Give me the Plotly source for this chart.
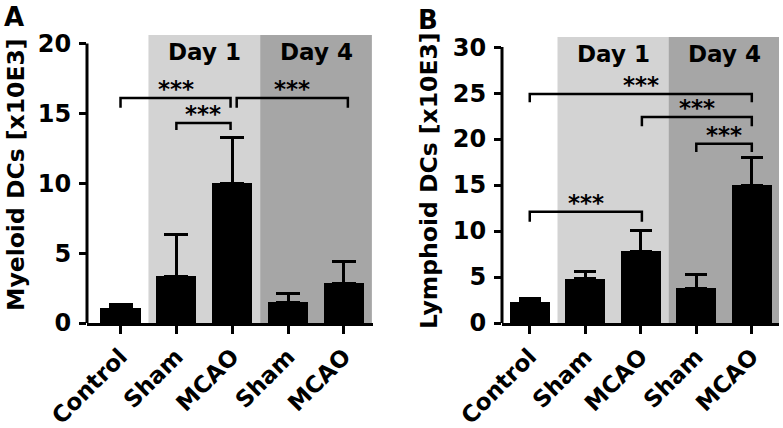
import plotly.graph_objects as go

# ---- data ----
groups = ["Control", "Sham", "MCAO", "Sham", "MCAO"]
myeloid_mean = [1.1, 3.35, 10.0, 1.5, 2.85]
myeloid_err = [0.25, 2.95, 3.3, 0.6, 1.55]
lymphoid_mean = [2.3, 4.8, 7.8, 3.8, 15.0]
lymphoid_err = [0.4, 0.85, 2.3, 1.5, 3.0]
yticks_A = [0, 5, 10, 15, 20]
yticks_B = [0, 5, 10, 15, 20, 25, 30]
day_labels = ["Day 1", "Day 4"]
# significance comparisons: (group i, group j, bracket height, tip length)
sig_A = [(0, 1.97, 16.1, 0.7), (1, 1.97, 14.3, 0.5), (2.08, 4.07, 16.1, 0.7)]
sig_B = [(0, 4, 24.9, 0.9), (2.02, 4, 22.4, 1.0), (3, 4, 19.5, 0.9), (0, 2.02, 12.1, 1.1)]
sig_text = "***"

W, H = 783, 428
FONT = "DejaVu Sans"


def px_x(p):
    return p / W


def px_y(p):
    return 1 - p / H


fig = go.Figure()
x = list(range(len(groups)))

fig.add_trace(go.Bar(
    x=x, y=myeloid_mean, width=0.72, marker=dict(color="black", line=dict(width=0)),
    error_y=dict(type="data", symmetric=False, array=myeloid_err, arrayminus=[0] * 5,
                 thickness=3, width=12, color="black"),
    xaxis="x", yaxis="y", showlegend=False, hoverinfo="skip"))
fig.add_trace(go.Bar(
    x=x, y=lymphoid_mean, width=0.72, marker=dict(color="black", line=dict(width=0)),
    error_y=dict(type="data", symmetric=False, array=lymphoid_err, arrayminus=[0] * 5,
                 thickness=3, width=11, color="black"),
    xaxis="x2", yaxis="y2", showlegend=False, hoverinfo="skip"))

tickfont = dict(family=FONT, size=24, color="black", weight="bold")
xtickfont = dict(family=FONT, size=23, color="black", weight="bold")

common_x = dict(tickmode="array", tickvals=x, ticktext=groups, tickangle=-45,
                ticks="outside", ticklen=8, tickwidth=3, tickcolor="black",
                showline=True, linewidth=3, linecolor="black", showgrid=False,
                zeroline=False, tickfont=xtickfont, automargin=False)
common_y = dict(ticks="outside", ticklen=7, tickwidth=3, tickcolor="black",
                showline=False, showgrid=False, zeroline=False, tickfont=tickfont,
                automargin=False, tickmode="array", ticklabelstandoff=3)

fig.update_layout(
    width=W, height=H, margin=dict(l=0, r=0, t=0, b=0),
    plot_bgcolor="white", paper_bgcolor="white", bargap=0,
    xaxis=dict(domain=[px_x(87), px_x(373)], range=[-0.6, 4.52], **common_x),
    yaxis=dict(domain=[px_y(323), px_y(35)], range=[0, 20.6], tickvals=yticks_A, **common_y),
    xaxis2=dict(domain=[px_x(502), px_x(779)], range=[-0.5, 4.49], anchor="y2", **common_x),
    yaxis2=dict(domain=[px_y(323), px_y(37)], range=[0, 31.1], anchor="x2",
                tickvals=yticks_B, **common_y),
)

shapes = []
annotations = []
for xr, yr, ymax, sigs in [("x", "y", 20, sig_A), ("x2", "y2", 30, sig_B)]:
    # day shading
    shapes.append(dict(type="rect", xref=xr, yref=f"{yr} domain", x0=0.5, x1=2.5, y0=0, y1=1,
                       fillcolor="#d3d3d3", line=dict(width=0), layer="below"))
    shapes.append(dict(type="rect", xref=xr, yref=f"{yr} domain", x0=2.5, x1=4.5, y0=0, y1=1,
                       fillcolor="#a6a6a6", line=dict(width=0), layer="below"))
    # y axis line up to last tick
    shapes.append(dict(type="line", xref=f"{xr} domain", yref=yr, x0=0, x1=0, y0=0, y1=ymax,
                       line=dict(color="black", width=3)))
    for lab, cx in zip(day_labels, [1.5, 3.5]):
        annotations.append(dict(text=lab, xref=xr, yref=f"{yr} domain", x=cx, y=1,
                                yanchor="top", xanchor="center", showarrow=False, yshift=-2,
                                font=dict(family=FONT, size=23, color="black", weight="bold")))
    for (a, b, h, d) in sigs:
        shapes.append(dict(type="path", xref=xr, yref=yr,
                           path=f"M {a},{h - d} L {a},{h} L {b},{h} L {b},{h - d}",
                           line=dict(color="black", width=2.5)))
        annotations.append(dict(text=sig_text, xref=xr, yref=yr, x=(a + b) / 2, y=h,
                                yanchor="bottom", xanchor="center", showarrow=False, yshift=-6,
                                font=dict(family=FONT, size=23, color="black", weight="bold")))

# axis titles and panel letters
annotations.append(dict(text="Myeloid DCs [x10E3]", xref="paper", yref="paper",
                        x=px_x(16), y=px_y(175), textangle=-90, showarrow=False,
                        xanchor="center", yanchor="middle",
                        font=dict(family=FONT, size=23.5, color="black", weight="bold")))
annotations.append(dict(text="Lymphoid DCs [x10E3]", xref="paper", yref="paper",
                        x=px_x(429), y=px_y(180), textangle=-90, showarrow=False,
                        xanchor="center", yanchor="middle",
                        font=dict(family=FONT, size=23.5, color="black", weight="bold")))
annotations.append(dict(text="A", xref="paper", yref="paper", x=px_x(14), y=px_y(17),
                        showarrow=False, xanchor="center", yanchor="middle",
                        font=dict(family=FONT, size=26, color="black", weight="bold")))
annotations.append(dict(text="B", xref="paper", yref="paper", x=px_x(428), y=px_y(20),
                        showarrow=False, xanchor="center", yanchor="middle",
                        font=dict(family=FONT, size=26, color="black", weight="bold")))

fig.update_layout(shapes=shapes, annotations=annotations)
fig.write_html("out.html", config={"displayModeBar": False},
               post_script="document.body.style.margin='0';")
